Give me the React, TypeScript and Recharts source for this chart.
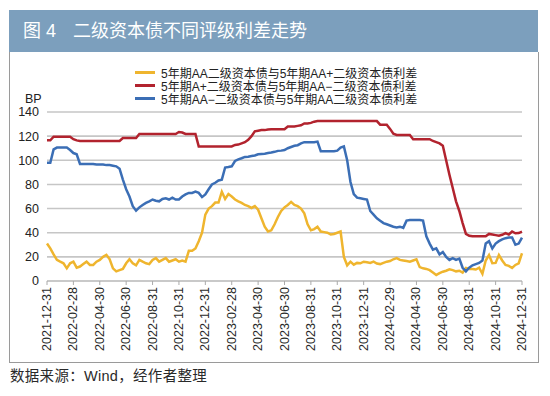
import React from 'react';
import { LineChart, Line, XAxis, YAxis, CartesianGrid } from 'recharts';

// x positions are quarter-months counted from 2021-12-31 (0 .. 144)
const tickLabels = [
  '2021-12-31', '2022-02-28', '2022-04-30', '2022-06-30', '2022-08-31', '2022-10-31',
  '2022-12-31', '2023-02-28', '2023-04-30', '2023-06-30', '2023-08-31', '2023-10-31',
  '2023-12-31', '2024-02-29', '2024-04-30', '2024-06-30', '2024-08-31', '2024-10-31',
  '2024-12-31',
];
const xTicks = [0, 8, 16, 24, 32, 40, 48, 56, 64, 72, 80, 88, 96, 104, 112, 120, 128, 136, 144];
const yTicks = [0, 20, 40, 60, 80, 100, 120, 140];

const seriesNames = [
  '5年期AA二级资本债与5年期AA+二级资本债利差',
  '5年期A+二级资本债与5年期AA−二级资本债利差',
  '5年期AA−二级资本债与5年期AA二级资本债利差',
];

// 5年期AA vs AA+
const yellowSpread = [
  31, 27, 22, 17.5, 16, 14.7, 10.5, 14.7, 16, 11,
  12, 14, 16, 13.3, 13.3, 16, 17.5, 20, 21.7, 18,
  10.5, 8, 9, 10, 14.7, 18, 14.7, 13, 17.5, 16,
  14.7, 14, 17.5, 19, 16, 17.5, 19, 16, 17, 18,
  16, 17, 16, 25, 25, 27, 33, 40, 55, 60,
  62, 65, 65, 74, 68, 72, 70, 67.5, 66, 64.7,
  63, 62, 60.5, 62, 59, 52, 45, 41, 42, 47,
  53, 58, 61, 63, 65.5, 63, 62, 60, 56, 47,
  42, 43, 45, 41, 40.5, 40, 38.5, 39, 40, 41,
  20, 13, 16, 13.5, 15, 14.7, 16, 15.5, 15, 16,
  14.5, 14, 15, 16, 16.5, 18, 19, 17.5, 17, 16.5,
  16, 17, 18, 11.5, 10.5, 10, 9, 7, 5, 6.5,
  7.7, 8.5, 9.7, 9, 8, 8.5, 7, 10.8, 10, 10,
  9.5, 11, 6, 17, 21.5, 14.7, 15, 21.5, 17, 13.3,
  12.5, 10.8, 13.3, 14.7, 23,
];

// 5年期A+ vs AA-
const redSpread = [
  116.5, 116.5, 119.5, 119.5, 119.5, 119.5, 119.5, 119.5, 117.5, 116.5,
  116, 116, 116, 116, 116, 116, 116, 116, 116, 116,
  116, 116, 116, 118.5, 118.5, 118.5, 118.5, 118.5, 121.8, 121.8,
  121.8, 121.8, 121.8, 121.8, 121.8, 121.8, 121.8, 121.8, 121.8, 121.8,
  123.4, 123, 121.8, 121.8, 121.8, 121.8, 111.5, 111.5, 111.5, 111.5,
  111.5, 111.5, 111.5, 111.5, 111.5, 111.5, 111.5, 112.7, 113, 114,
  115, 117, 120, 124, 124.5, 125, 125, 125.5, 125.7, 125.7,
  125.7, 125.7, 125.7, 128, 128, 128, 128.5, 129, 130.5, 130.5,
  131, 132, 132.5, 132.5, 132.5, 132.5, 132.5, 132.5, 132.5, 132.5,
  132.5, 132.5, 132.5, 132.5, 132.5, 132.5, 132.5, 132.5, 132.5, 132.5,
  132.5, 129.5, 129.5, 129.5, 126, 122, 121, 121, 121, 121,
  121, 117.5, 117.5, 117.5, 117.5, 117.5, 117.5, 116, 115, 114,
  112, 100, 88, 77, 66, 58, 48, 39, 37.5, 37,
  37, 37, 37, 37, 39, 38.5, 38, 37.5, 38.3, 39.7,
  38.5, 41, 39.5, 39.7, 41,
];

// 5年期AA- vs AA
const blueSpread = [
  98, 98, 109, 110.5, 110.5, 110.5, 110.5, 108.5, 106, 105,
  97, 97, 97, 97, 97, 96.5, 96.5, 96.5, 96, 96,
  95.5, 95, 93, 84, 76, 70, 62, 58.3, 61, 63,
  64.7, 66, 67.5, 66.5, 66, 68, 68.5, 67.5, 69, 67.5,
  67.5, 70, 71.7, 73, 73, 74, 73, 69.5, 71.7, 76,
  80, 81.4, 83.3, 84, 94, 94.4, 95, 99.4, 100.8, 101.7,
  102.8, 103, 103.6, 104, 105, 105.3, 105.5, 106, 106.4, 107,
  107.8, 108, 108.5, 110, 111, 112, 112.5, 114, 115, 115,
  115, 115, 115.5, 107.5, 107.5, 107.5, 107.5, 107.5, 108, 110.5,
  111.5, 100, 82, 72, 69, 68.5, 68, 67.5, 58, 55,
  52, 50, 48, 47, 46, 45, 44.4, 45, 44, 50,
  50.5, 50.5, 50.5, 50.5, 50, 37, 31, 26, 27, 22,
  24, 20, 17.5, 19, 17.5, 18.5, 11, 8, 11, 13,
  14, 15, 17, 31, 33, 27, 31, 33, 34.5, 35.5,
  36, 36, 30, 31, 36,
];

const COLORS = ['#efb52e', '#b2232e', '#3b6eb5'];
const FONT = '"Liberation Sans", "Noto Sans CJK SC", sans-serif';

const rows = yellowSpread.map((v, i) => ({
  i,
  yellow: v,
  red: redSpread[i],
  blue: blueSpread[i],
}));

const XTick = (props: any) => {
  const { x, y, payload } = props;
  const label = tickLabels[Math.round(payload.value / 8)];
  return (
    <text
      x={x}
      y={y}
      transform={`rotate(-90 ${x} ${y})`}
      textAnchor="end"
      dominantBaseline="central"
      fontSize={12.5}
      fill="#2a2a2a"
      fontFamily={FONT}
    >
      {label}
    </text>
  );
};

export default function App() {
  return (
    <div style={{ position: 'absolute', left: 0, top: 0, width: 550, height: 396, background: '#fff', fontFamily: FONT }}>
      {/* title bar */}
      <div
        style={{
          position: 'absolute', left: 9, top: 10, width: 529, height: 42,
          background: '#7c9fbd', color: '#fff', fontSize: 18, lineHeight: '42px',
        }}
      >
        <span style={{ position: 'absolute', left: 14 }}>图 4</span>
        <span style={{ position: 'absolute', left: 64 }}>二级资本债不同评级利差走势</span>
      </div>
      {/* frame */}
      <div
        style={{
          position: 'absolute', left: 9, top: 52, width: 528, height: 310,
          border: '1px solid #9a9a9a', borderTop: 'none',
        }}
      />

      {/* legend */}
      <div style={{ position: 'absolute', left: 135, top: 66, fontSize: 12, color: '#222' }}>
        {seriesNames.map((name, k) => (
          <div key={name} style={{ display: 'flex', alignItems: 'center', height: 13 }}>
            <span style={{ display: 'inline-block', width: 20, height: 3, background: COLORS[k], marginRight: 6 }} />
            <span>{name}</span>
          </div>
        ))}
      </div>

      <div style={{ position: 'absolute', left: 25, top: 92, fontSize: 12.5, color: '#222' }}>BP</div>

      <div style={{ position: 'absolute', left: 0, top: 0 }}>
        <LineChart width={550} height={396} data={rows} margin={{ top: 112, right: 28, left: 0, bottom: 0 }}>
          <CartesianGrid vertical={false} stroke="#c6c6c6" strokeWidth={1.6} />
          <XAxis
            type="number"
            dataKey="i"
            domain={[0, 144]}
            ticks={xTicks}
            interval={0}
            height={115}
            tick={<XTick />}
            tickSize={4}
            tickMargin={2}
            tickLine={{ stroke: '#aaa' }}
            axisLine={{ stroke: '#c6c6c6', strokeWidth: 1.6 }}
          />
          <YAxis
            type="number"
            domain={[0, 140]}
            ticks={yTicks}
            interval={0}
            width={47}
            axisLine={false}
            tickLine={false}
            tick={{ fontSize: 12.5, fill: '#222', fontFamily: FONT }}
          />
          <Line type="linear" dataKey="yellow" stroke={COLORS[0]} strokeWidth={2.5} dot={false} isAnimationActive={false} />
          <Line type="linear" dataKey="red" stroke={COLORS[1]} strokeWidth={2.5} dot={false} isAnimationActive={false} />
          <Line type="linear" dataKey="blue" stroke={COLORS[2]} strokeWidth={2.5} dot={false} isAnimationActive={false} />
        </LineChart>
      </div>

      <div style={{ position: 'absolute', left: 10, top: 364, fontSize: 14.5, color: '#2a2a2a', letterSpacing: 0.3 }}>
        数据来源：Wind，经作者整理
      </div>
    </div>
  );
}
